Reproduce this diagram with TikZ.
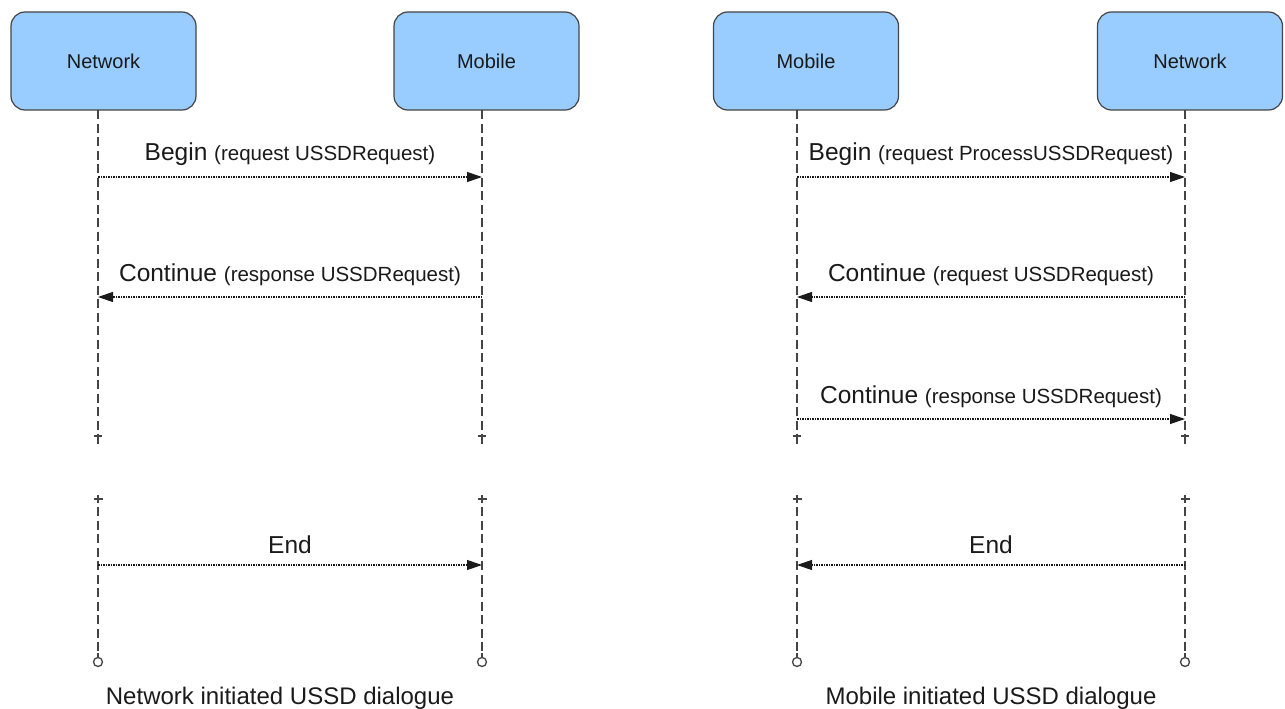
\documentclass[tikz,border=0pt]{standalone}
\usepackage{fontspec}
\setmainfont{Liberation Sans}
\usetikzlibrary{arrows.meta}
\usetikzlibrary{calc}

\definecolor{boxblue}{HTML}{99CCFF}
\definecolor{linegray}{HTML}{444444}
\definecolor{textgray}{HTML}{1A1A1A}

\newcommand{\argtext}[1]{{\fontsize{20.5}{24}\selectfont #1}}

\tikzset{
  actor/.style={draw=linegray, fill=boxblue, rounded corners=14pt, minimum width=185pt,
    minimum height=98pt, line width=1.2pt, text=textgray, font=\fontsize{20}{24}\selectfont},
  lifeline/.style={draw=linegray, line width=1.3pt, dash pattern=on 9pt off 4.5pt},
  stub/.style={draw=linegray, line width=1.3pt},
  msg/.style={draw=textgray, line width=1.2pt, dash pattern=on 1.5pt off 1pt,
    -{Triangle[length=15pt,width=10pt]}},
  msglabel/.style={above=11pt, inner sep=0pt, text=textgray, font=\fontsize{24.5}{28}\selectfont},
  caption/.style={anchor=base, text=textgray, font=\fontsize{24}{28}\selectfont}
}

\begin{document}
\begin{tikzpicture}[x=1pt,y=-1pt]
    \useasboundingbox (0,0) rectangle (1285,709);

    % the four parties
    \node[actor] (netA) at (103.5,61) {Network};
    \node[actor] (mobA) at (486.5,61) {Mobile};
    \node[actor] (mobB) at (806,61) {Mobile};
    \node[actor] (netB) at (1190,61) {Network};

    \coordinate (netA-top) at (98,110);
    \coordinate (mobA-top) at (482,110);
    \coordinate (mobB-top) at (797,110);
    \coordinate (netB-top) at (1185,110);

    \coordinate (row1) at (0,177);
    \coordinate (row2) at (0,297);
    \coordinate (row3) at (0,419);
    \coordinate (row4) at (0,565);
    \coordinate (cut1) at (0,436);
    \coordinate (cut2) at (0,499);
    \coordinate (bottom) at (0,662);

    % lifelines
    \foreach \who in {netA,mobA,mobB,netB} {
      \draw[lifeline] (\who-top) -- (\who-top |- cut1);
      \draw[stub] (\who-top |- cut1) ++(-4,0) -- ++(8,0) ++(-4,0) -- ++(0,8);
      \draw[stub] (\who-top |- cut2) ++(-4.5,0) -- ++(9,0) ++(-4.5,-4) -- ++(0,8);
      \draw[lifeline] ($(\who-top |- cut2)+(0,8)$) -- ($(\who-top |- bottom)+(0,-9)$);
      \draw[stub] ($(\who-top |- bottom)+(0,-9)$) -- ++(0,5);
      \draw[stub, fill=white] (\who-top |- bottom) circle (4.5pt);
    }

    % network initiated
    \draw[msg] (netA-top |- row1) -- node[msglabel] {Begin \argtext{(request USSDRequest)}} (mobA-top |- row1);
    \draw[msg] (mobA-top |- row2) -- node[msglabel] {Continue \argtext{(response USSDRequest)}} (netA-top |- row2);
    \draw[msg] (netA-top |- row4) -- node[msglabel] {End} (mobA-top |- row4);

    % mobile initiated
    \draw[msg] (mobB-top |- row1) -- node[msglabel] {Begin \argtext{(request ProcessUSSDRequest)}} (netB-top |- row1);
    \draw[msg] (netB-top |- row2) -- node[msglabel] {Continue \argtext{(request USSDRequest)}} (mobB-top |- row2);
    \draw[msg] (mobB-top |- row3) -- node[msglabel] {Continue \argtext{(response USSDRequest)}} (netB-top |- row3);
    \draw[msg] (netB-top |- row4) -- node[msglabel] {End} (mobB-top |- row4);

    \node[caption] (capA) at (280,704) {Network initiated USSD dialogue};
    \node[caption] (capB) at (991,704) {Mobile initiated USSD dialogue};
\end{tikzpicture}
\end{document}
